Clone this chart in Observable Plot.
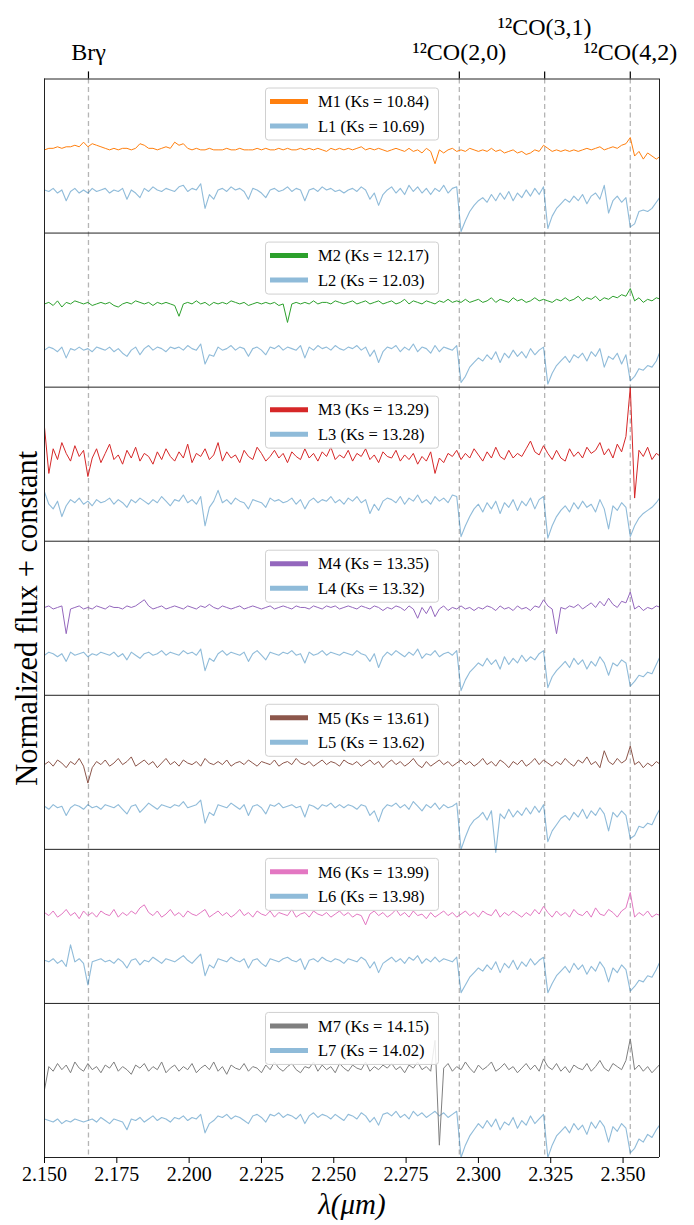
<!DOCTYPE html>
<html><head><meta charset="utf-8">
<script src="https://cdn.jsdelivr.net/npm/d3@7"></script>
<script src="https://cdn.jsdelivr.net/npm/@observablehq/plot@0.6"></script>
<style>body{margin:0;background:#fff}</style>
</head><body><div id="chart"></div>
<script>
// Wavelength grid in Ångström
const wavelength = [
21500,21515,21530,21545,21560,21575,21590,21605,21620,21635,
21650,21665,21680,21695,21710,21725,21740,21755,21770,21785,
21800,21815,21830,21845,21860,21875,21890,21905,21920,21935,
21950,21965,21980,21995,22010,22025,22040,22055,22070,22085,
22100,22115,22130,22145,22160,22175,22190,22205,22220,22235,
22250,22265,22280,22295,22310,22325,22340,22355,22370,22385,
22400,22415,22430,22445,22460,22475,22490,22505,22520,22535,
22550,22565,22580,22595,22610,22625,22640,22655,22670,22685,
22700,22715,22730,22745,22760,22775,22790,22805,22820,22835,
22850,22865,22880,22895,22910,22925,22940,22955,22970,22985,
23000,23015,23030,23045,23060,23075,23090,23105,23120,23135,
23150,23165,23180,23195,23210,23225,23240,23255,23270,23285,
23300,23315,23330,23345,23360,23375,23390,23405,23420,23435,
23450,23465,23480,23495,23510,23525,23540,23555,23570,23585,
23600,23615,23630];

// Normalized flux (percent of continuum)
const M1 = [98,99,99,100,99,100,100,101,100,103,
100,102,101,100,99,98,99,98,99,99,
98,99,102,101,99,99,98,99,100,99,
103,101,102,99,98,99,98,98,99,98,
98,98,99,98,98,99,98,98,98,99,
98,99,98,98,99,98,99,98,98,99,
98,99,98,99,98,97,99,98,99,98,
99,98,99,100,98,99,98,99,98,97,
98,99,98,97,99,97,98,96,99,97,
89,98,96,98,99,97,98,97,99,98,
97,98,97,99,97,98,96,97,98,96,
97,95,96,98,97,101,99,97,98,97,
98,97,98,97,98,99,98,99,100,98,
99,100,99,101,102,106,94,97,92,96,
94,92,94];
const L1 = [100,99,101,98,100,93,99,101,98,100,
98,101,99,100,101,98,100,99,101,94,
100,98,95,101,99,102,100,99,101,100,
99,102,103,99,101,100,104,88,97,94,
100,101,99,102,100,101,99,94,101,100,
98,95,100,101,99,100,102,99,101,100,
93,100,101,99,102,100,101,99,100,98,
100,101,99,102,100,94,98,90,97,100,
102,98,101,97,103,99,102,98,101,97,
101,99,103,98,101,102,73,80,86,90,
93,95,92,97,93,98,94,99,93,98,
95,100,96,101,97,102,75,83,88,91,
94,92,96,93,97,91,96,98,94,103,
85,93,96,92,95,76,78,86,87,86,
88,92,96];
const M2 = [99,100,98,101,97,100,99,101,100,99,
100,98,99,100,99,100,98,97,99,100,
99,101,100,99,100,98,100,99,100,99,
98,91,99,100,99,101,99,100,98,100,
99,100,99,101,100,99,100,98,99,100,
99,100,99,100,98,99,87,99,100,99,
100,99,101,99,100,100,99,101,100,99,
100,101,99,100,101,99,100,101,99,100,
101,99,100,102,99,101,100,99,101,100,
99,101,100,102,100,101,100,102,100,101,
102,100,101,103,100,102,101,100,103,101,
102,100,101,103,101,102,101,100,102,101,
103,101,102,104,101,103,102,104,101,103,
102,104,103,105,104,109,101,103,100,102,
101,103,102];
const L2 = [99,101,100,98,101,94,100,99,101,99,
100,98,101,100,99,101,98,100,97,95,
99,101,96,100,102,99,101,100,98,101,
100,101,99,102,100,99,103,90,96,95,
101,99,100,102,99,101,100,95,100,101,
99,96,101,100,102,99,101,100,99,102,
94,101,99,102,100,101,99,102,100,99,
101,100,102,99,101,95,99,91,98,101,
100,102,98,101,99,103,98,101,100,97,
102,98,101,100,99,102,78,82,88,91,
94,92,96,93,98,91,97,94,99,95,
98,94,100,96,99,101,77,84,89,92,
95,91,96,94,97,92,98,95,100,88,
95,93,97,90,96,79,82,87,86,89,
88,92,99];
const M3 = [118,88,104,97,108,101,96,106,99,103,
86,98,104,95,101,107,97,100,94,103,
98,105,96,101,99,94,102,97,104,99,
96,102,98,107,95,101,99,104,97,100,
108,96,102,98,100,95,103,99,97,105,
101,96,99,103,98,101,95,102,99,97,
104,98,101,96,102,99,105,97,100,98,
103,96,101,99,104,97,100,95,102,99,
98,103,96,100,97,101,94,99,96,102,
88,98,95,101,99,103,97,101,98,104,
100,96,102,98,105,99,97,103,98,101,
99,104,109,102,100,106,101,97,103,98,
96,104,99,102,98,105,101,103,108,100,
104,98,107,102,112,144,72,103,99,105,
97,101,99];
const L3 = [106,98,95,100,90,97,101,99,102,98,
100,97,101,99,100,102,98,101,99,96,
101,99,102,100,98,101,99,103,100,97,
101,100,104,99,101,98,103,84,96,100,
107,99,101,98,102,100,99,95,101,100,
99,96,102,100,101,99,100,102,98,101,
95,100,102,99,101,100,103,99,101,98,
102,100,103,99,101,92,98,94,100,102,
101,99,103,98,102,100,104,99,101,98,
103,100,102,99,104,103,77,84,90,95,
98,93,99,95,100,92,99,96,101,94,
100,97,102,95,101,103,76,84,90,94,
97,93,99,95,100,96,98,93,101,95,
82,97,94,99,96,77,84,89,92,94,
96,99,103];
const M4 = [100,101,99,100,101,83,99,100,101,99,
100,99,101,100,99,101,100,100,99,101,
100,101,103,105,101,99,100,101,99,100,
101,100,99,101,100,99,101,100,102,100,
99,101,100,99,100,101,99,100,101,100,
99,100,101,99,100,101,100,99,101,100,
100,99,101,100,99,101,100,101,99,100,
101,100,99,101,100,99,101,100,98,100,
99,101,100,98,101,99,93,100,96,101,
94,99,101,98,100,99,101,99,100,98,
100,99,101,100,98,101,99,100,98,101,
99,100,98,101,100,105,101,99,83,100,
99,101,100,102,99,101,103,100,104,101,
106,102,100,104,103,110,99,101,98,100,
99,101,100];
const L4 = [99,101,100,98,100,95,101,99,100,101,
98,100,99,101,100,99,101,98,100,96,
101,99,97,100,101,99,100,102,99,101,
100,99,102,100,101,99,103,89,97,95,
100,102,99,101,100,99,101,95,100,102,
99,96,101,100,99,101,100,102,99,100,
94,101,99,100,102,99,101,100,99,101,
100,99,102,100,99,95,100,91,98,101,
99,102,100,98,101,99,103,97,100,99,
102,98,100,101,99,102,76,83,88,91,
94,92,97,93,96,90,98,93,97,94,
99,95,98,96,100,102,78,85,89,92,
95,91,97,93,96,90,95,92,98,94,
86,94,92,96,94,79,82,86,85,88,
87,93,99];
const M5 = [99,101,98,102,100,97,101,99,103,98,
87,97,101,99,102,98,100,103,99,101,
104,98,100,102,99,101,97,100,103,99,
101,98,102,100,99,101,98,103,100,99,
101,99,102,98,100,101,99,102,100,98,
101,100,99,102,98,100,101,99,103,100,
99,101,98,100,102,99,101,100,98,102,
100,99,101,98,100,102,99,101,97,100,
102,99,101,98,100,103,99,97,101,98,
100,102,99,101,98,100,102,99,101,98,
100,103,99,101,98,102,100,97,101,99,
102,98,100,103,99,102,100,98,101,99,
103,100,98,102,100,104,99,101,97,108,
101,99,103,100,102,111,99,101,97,100,
98,101,99];
const L5 = [100,98,101,99,100,94,99,101,100,98,
101,99,100,98,101,100,99,101,98,95,
100,101,96,99,102,100,98,101,100,99,
101,100,103,99,100,101,104,89,96,94,
101,100,99,102,100,98,101,94,100,101,
99,95,101,100,102,99,100,101,99,100,
93,101,100,98,101,100,102,99,101,99,
101,100,98,101,100,94,97,90,98,101,
100,102,99,101,98,103,100,97,101,99,
102,98,101,99,100,102,72,80,87,91,
93,96,91,97,70,95,92,98,93,97,
94,99,95,100,96,101,77,84,88,92,
94,91,96,93,98,92,97,94,99,95,
84,96,93,97,94,79,81,87,86,89,
88,94,99];
const M6 = [101,99,102,98,100,103,99,101,97,102,
99,101,98,102,100,99,103,98,101,99,
102,100,104,106,101,99,102,98,100,103,
99,101,98,102,100,99,101,103,98,100,
102,99,101,98,100,103,99,101,98,102,
100,99,102,98,101,100,99,103,98,100,
101,98,102,100,99,101,98,100,102,99,
101,98,100,99,93,100,102,99,101,98,
100,103,99,101,98,102,99,100,97,101,
98,100,102,99,101,98,100,102,99,101,
98,102,100,99,103,98,101,99,102,100,
98,101,99,103,100,105,101,98,102,99,
101,98,103,100,99,102,98,104,100,99,
103,101,98,102,104,114,98,101,99,102,
98,100,99];
const L6 = [100,99,101,98,100,96,110,99,101,98,
84,99,100,101,99,100,98,101,99,95,
100,101,97,100,99,102,100,98,101,100,
99,101,103,100,98,101,104,90,97,95,
101,100,99,102,100,99,101,95,100,101,
98,96,101,100,99,101,102,100,99,101,
94,100,101,99,102,100,99,101,100,98,
101,100,99,102,100,95,99,92,98,100,
102,99,101,98,102,100,103,98,101,99,
102,99,101,100,99,102,79,84,89,92,
95,93,97,94,99,92,98,95,100,94,
99,96,101,97,100,102,79,85,90,93,
96,92,98,94,97,91,96,93,99,95,
86,95,92,97,94,80,83,87,86,90,
89,94,100];
const M7 = [86,101,98,103,99,102,97,104,100,98,
103,99,101,97,102,100,104,98,101,99,
96,102,100,103,98,101,99,104,97,100,
102,98,101,99,103,97,100,102,99,104,
98,101,96,102,100,99,103,98,101,100,
97,102,99,104,100,98,101,103,99,97,
101,100,104,98,102,99,101,97,103,100,
98,102,100,99,104,98,101,99,102,100,
103,99,101,97,102,100,104,99,101,98,
118,50,100,103,98,101,99,104,100,97,
102,99,101,104,98,100,103,99,101,97,
100,103,99,102,98,106,101,99,103,98,
101,97,102,100,99,103,98,101,105,100,
98,103,101,99,105,119,99,102,98,101,
97,100,103];
const L7 = [101,100,99,101,98,100,99,101,100,99,
100,101,99,102,100,98,101,100,99,94,
101,100,102,99,101,103,100,102,101,99,
102,101,103,100,102,101,104,92,98,100,
103,102,104,101,103,102,100,98,103,104,
102,99,104,103,105,102,104,103,101,104,
98,103,105,102,104,103,101,104,102,100,
104,103,101,105,103,99,102,97,104,105,
103,106,102,104,101,106,103,105,102,104,
106,103,105,102,104,106,76,84,90,94,
98,95,100,96,101,94,99,97,102,95,
100,97,103,98,101,104,76,84,90,93,
96,92,98,94,97,91,99,95,100,96,
86,96,93,98,95,79,82,88,86,91,
89,94,98];

const mNames = ["M1","M2","M3","M4","M5","M6","M7"];
const lNames = ["L1","L2","L3","L4","L5","L6","L7"];
const mKs = ["10.84","12.17","13.29","13.35","13.61","13.99","14.15"];
const lKs = ["10.69","12.03","13.28","13.32","13.62","13.98","14.02"];
const mConst = [-0.44,-0.45,-0.44,-0.43,-0.44,-0.42,-0.42];
const lConst = [-0.72,-0.75,-0.74,-0.73,-0.72,-0.72,-0.76];
const lineLabels = ["Br\u03b3","\u00b9\u00b2CO(2,0)","\u00b9\u00b2CO(3,1)","\u00b9\u00b2CO(4,2)"];
const lineWavelengths = [2.1652, 2.2934, 2.3229, 2.3525];
const xTicks = [2.150,2.175,2.200,2.225,2.250,2.275,2.300,2.325,2.350];

const mSeries = [M1,M2,M3,M4,M5,M6,M7];
const lSeries = [L1,L2,L3,L4,L5,L6,L7];
const mColors = ["#ff7f0e","#2ca02c","#d62728","#9467bd","#8c564b","#e377c2","#7f7f7f"];
const lColor = "#1f77b4";
const FONT = "'Liberation Serif','DejaVu Serif',serif";

function toRows(series, consts, kind) {
  const rows = [];
  series.forEach((s, k) => s.forEach((f, i) => rows.push({
    id: kind + k, panel: k, lambda: wavelength[i] / 1e4, y: (6 - k) + f / 100 + consts[k]
  })));
  return rows;
}
const mRows = toRows(mSeries, mConst, "M");
const lRows = toRows(lSeries, lConst, "L");

const lineObjs = lineWavelengths.map((w, i) => ({lambda: w, label: lineLabels[i]}));

const marks = [
  Plot.ruleX(lineWavelengths, {stroke: "#b5b5b5", strokeWidth: 1.3, strokeDasharray: "5,3.5"}),
  Plot.ruleX(lineWavelengths, {y1: 7, y2: 7.046, stroke: "#000", strokeWidth: 1.2}),
  Plot.line(lRows, {x: "lambda", y: "y", z: "id", stroke: lColor, strokeOpacity: 0.5, strokeWidth: 1.1, clip: true})
];
mColors.forEach((c, k) => {
  marks.push(Plot.line(mRows.filter(d => d.panel === k), {x: "lambda", y: "y", stroke: c, strokeWidth: 1, clip: true}));
});
marks.push(
  Plot.ruleY([0,1,2,3,4,5,6,7], {stroke: "#222", strokeWidth: 1}),
  Plot.ruleX([2.150, 2.3626], {stroke: "#222", strokeWidth: 1}),
  Plot.axisX(xTicks, {anchor: "bottom", tickFormat: d3.format(".3f"), tickSize: 6, tickPadding: 3, fontSize: 20, label: null}),
  Plot.text(lineObjs.filter((d, i) => i !== 2), {x: "lambda", text: "label", frameAnchor: "top", dy: -19, lineAnchor: "bottom", fontSize: 24}),
  Plot.text(lineObjs.filter((d, i) => i === 2), {x: "lambda", text: "label", frameAnchor: "top", dy: -44, lineAnchor: "bottom", fontSize: 24}),
  Plot.text(["Normalized flux + constant"], {text: d => d, frameAnchor: "left", dx: -17, rotate: -90, textAnchor: "middle", fontSize: 30.5}),
  Plot.text(["\u03bb(\u03bcm)"], {text: d => d, frameAnchor: "bottom", dy: 56, fontSize: 29, fontStyle: "italic"})
);

const plot = Plot.plot({
  width: 694, height: 1225,
  marginTop: 78.5, marginBottom: 68, marginLeft: 44, marginRight: 35,
  x: {domain: [2.150, 2.3626]},
  y: {domain: [0, 7], axis: null},
  style: {fontFamily: FONT, fontSize: "17px", color: "#000", background: "#fff"},
  marks
});
document.getElementById("chart").appendChild(plot);

// Legends inside each panel
const svg = d3.select(plot);
const yS = plot.scale("y");
const lg = svg.append("g").attr("font-family", FONT).attr("font-size", 16.5).attr("text-anchor", "start");
for (let k = 0; k < 7; k++) {
  const top = yS.apply(7 - k);
  lg.append("rect").attr("x", 265.5).attr("y", top + 9.5).attr("width", 173).attr("height", 52)
    .attr("rx", 3).attr("fill", "#fff").attr("fill-opacity", 0.85).attr("stroke", "#d0d0d0");
  const entries = [
    {y: top + 23, color: mColors[k], op: 1, text: `${mNames[k]} (Ks = ${mKs[k]})`},
    {y: top + 47.5, color: lColor, op: 0.5, text: `${lNames[k]} (Ks = ${lKs[k]})`}
  ];
  for (const e of entries) {
    lg.append("line").attr("x1", 270).attr("x2", 308).attr("y1", e.y).attr("y2", e.y)
      .attr("stroke", e.color).attr("stroke-opacity", e.op).attr("stroke-width", 5);
    lg.append("text").attr("x", 318).attr("y", e.y).attr("dy", "0.35em").attr("fill", "#000")
      .attr("text-anchor", "start").text(e.text);
  }
}
</script>
</body></html>
